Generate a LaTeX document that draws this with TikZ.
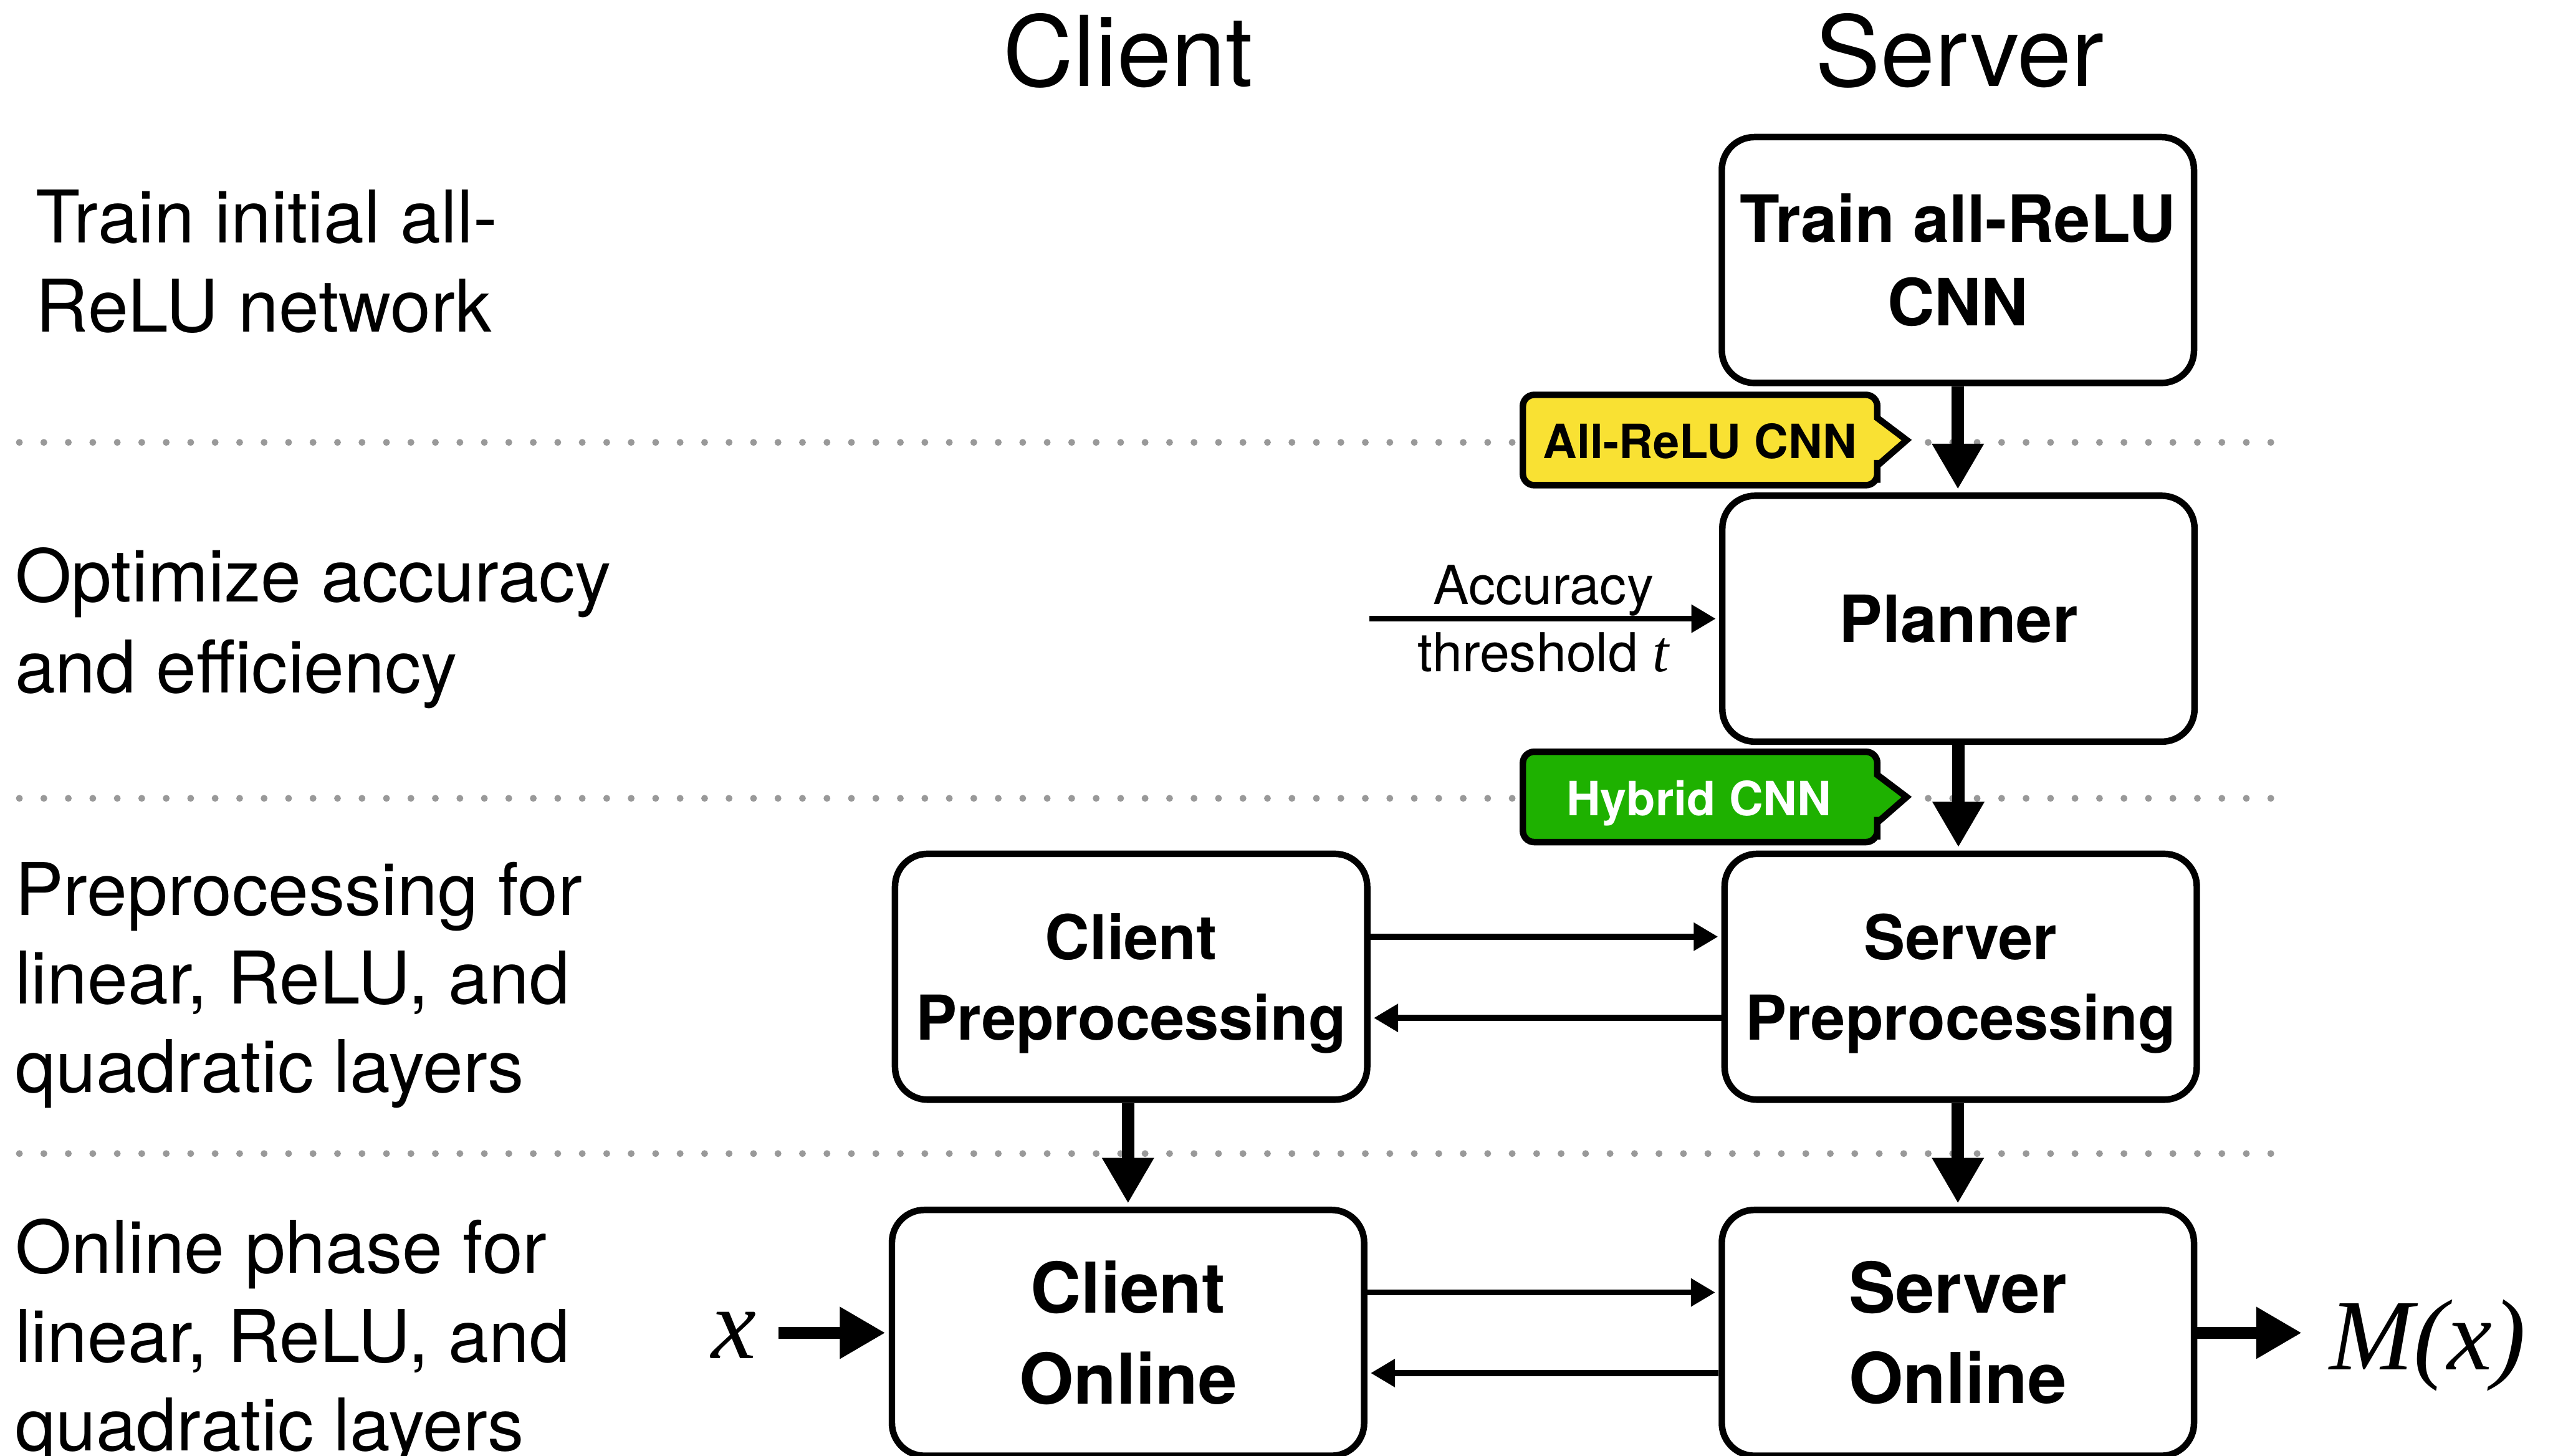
\documentclass[tikz,border=0pt]{standalone}
\usepackage{fontspec}
\setmainfont{TeX Gyre Heros}
\newfontfamily\tms{Liberation Serif}
\usetikzlibrary{arrows.meta}

\definecolor{tagyellow}{RGB}{249,225,51}
\definecolor{taggreen}{RGB}{30,177,0}
\definecolor{dotgray}{RGB}{153,153,153}

\newcommand\fs[2]{\fontsize{#1}{#2}\selectfont}

% outline of a flag-shaped tag whose top edge lies at #1, filled with #2
\newcommand\tagoutline[2]{%
  \draw[tagline,fill=#2] (1040,#1) [rounded corners=7pt]
    -- (935.3,#1) -- (935.3,#1+55.5) -- (1153,#1+55.5) -- (1153,#1+47)
    [sharp corners] -- (1153,#1+43.5) -- (1171,#1+27.8) -- (1153,#1+14.2) -- (1153,#1+9)
    [rounded corners=7pt] -- (1153,#1) -- cycle;}

\begin{document}
\begin{tikzpicture}[x=1pt,y=-1pt,
  procbox/.style={draw,line width=4pt,rounded corners=20pt,fill=white,
    minimum width=290pt,minimum height=151pt,align=center,inner sep=0pt},
  bigarrow/.style={line width=7.5pt,shorten >=2pt,-{Triangle[length=28pt,width=30pt]}},
  thinarrow/.style={line width=3.7pt,shorten >=2pt,-{Triangle[length=15pt,width=16.5pt]}},
  phaselabel/.style={anchor=base west,inner sep=0pt,font=\fs{44.6}{54}},
  colhead/.style={anchor=base,inner sep=0pt,font=\fs{60}{72}},
  rowsep/.style={dotgray,line width=4.2pt,line cap=round,dash pattern=on 0pt off 15.03pt},
  tagline/.style={line width=4pt,line join=miter},
  tagtext/.style={anchor=base,inner sep=0pt,font=\fs{29}{36}\bfseries}]

\useasboundingbox (0,0) rectangle (1568,894.1);
\fill[white] (0,0) rectangle (1568,894.1);

% dotted separators between the phases
\draw[rowsep] (11.9,271.7) -- (1395.5,271.7);
\draw[rowsep] (11.9,490.3) -- (1395.5,490.3);
\draw[rowsep] (11.9,708.5) -- (1395.5,708.5);

% column headings
\node[colhead] (hclient) at (692.9,53) {Client};
\node[colhead] (hserver) at (1203.7,53) {Server};

% phase descriptions
\node[phaselabel] (p1a) at (22,149) {Train initial all-};
\node[phaselabel] (p1b) at (22,204) {ReLU network};
\node[phaselabel] (p2a) at (9,369.6) {Optimize accuracy};
\node[phaselabel] (p2b) at (9,425.6) {and efficiency};
\node[phaselabel] (p3a) at (9,562) {Preprocessing for};
\node[phaselabel] (p3b) at (9,616.5) {linear, ReLU, and};
\node[phaselabel] (p3c) at (9,671) {quadratic layers};
\node[phaselabel] (p4a) at (9,782) {Online phase for};
\node[phaselabel] (p4b) at (9,836.5) {linear, ReLU, and};
\node[phaselabel] (p4c) at (9,891) {quadratic layers};

% processing boxes
\node[procbox,font=\fs{40}{51}\bfseries] (train) at (1202.5,159.7) {Train all-ReLU\\CNN};
\node[procbox,font=\fs{40}{48}\bfseries] (planner) at (1202.8,380) {Planner};
\node[procbox,font=\fs{38}{49.5}\bfseries] (cpre) at (694.7,599.9)
  {Client\\\raisebox{0pt}[\height][0pt]{Preprocessing}};
\node[procbox,font=\fs{38}{49.5}\bfseries] (spre) at (1204.2,599.9)
  {Server\\\raisebox{0pt}[\height][0pt]{Preprocessing}};
\node[procbox,font=\fs{43}{55.6}\bfseries] (con) at (692.8,818.6) {Client\\Online};
\node[procbox,font=\fs{43}{55.6}\bfseries] (son) at (1202.5,818.6) {Server\\Online};

% vertical flow
\draw[bigarrow] (train.south) -- (train.south |- planner.north);
\draw[bigarrow] (planner.south) -- (planner.south |- spre.north);
\draw[bigarrow] (con.north |- cpre.south) -- (con.north);
\draw[bigarrow] (son.north |- spre.south) -- (son.north);

% client/server exchanges
\draw[thinarrow] ([yshift=24.6pt]cpre.east) -- ([yshift=24.6pt]cpre.east -| spre.west);
\draw[thinarrow] ([yshift=-25.3pt]spre.west) -- ([yshift=-25.3pt]spre.west -| cpre.east);
\draw[thinarrow] ([yshift=24.8pt]con.east) -- ([yshift=24.8pt]con.east -| son.west);
\draw[thinarrow] ([yshift=-24.7pt]son.west) -- ([yshift=-24.7pt]son.west -| con.east);

% accuracy threshold input
\coordinate (accin) at (841,380);
\draw[thinarrow] (accin) -- (planner.west);
\node[anchor=base,inner sep=0pt,font=\fs{33}{40}] (acclab) at (948,371.2) {Accuracy};
\node[anchor=base,inner sep=0pt,font=\fs{33}{40}] (thrlab) at (948,412.5)
  {threshold {\tms\itshape\fs{36}{40}t}};

% model input and output
\node[anchor=base,inner sep=0pt,font=\tms\itshape\fs{62}{70}] (xin) at (450.8,834.3) {x};
\coordinate (xstart) at (478.2,818.6);
\draw[bigarrow] (xstart) -- (con.west);
\coordinate (mend) at (1413.7,818.6);
\draw[bigarrow,shorten >=0pt] (son.east) -- (mend);
\node[anchor=base west,inner sep=0pt,font=\tms\itshape\fs{62}{70}] (mout) at (1430.5,841.2) {M(x)};

% network tags
\tagoutline{242.5}{tagyellow}
\node[tagtext] (relutag) at (1044,281.6) {All-ReLU CNN};
\tagoutline{461.7}{taggreen}
\node[tagtext,text=white] (hybridtag) at (1043.4,500.8) {Hybrid CNN};

\end{tikzpicture}
\end{document}
